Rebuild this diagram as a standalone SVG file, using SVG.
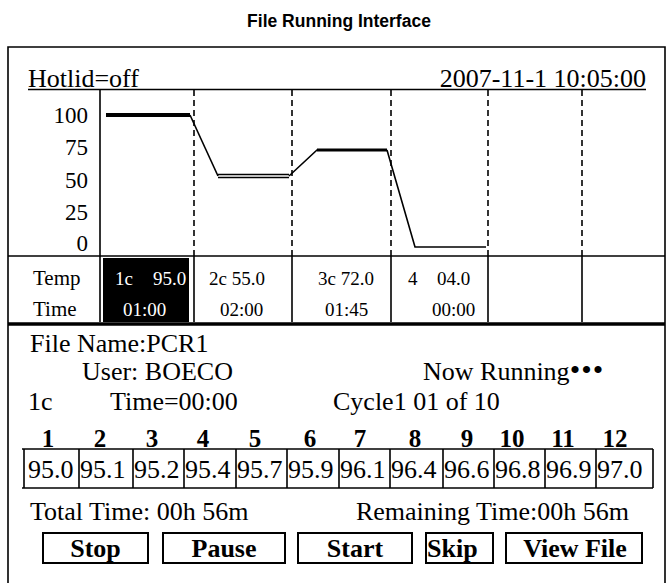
<svg xmlns="http://www.w3.org/2000/svg" width="667" height="583" viewBox="0 0 667 583">
<style>
.t{font-family:"Liberation Serif","Times New Roman",serif;font-size:26px;fill:#000}
.ax{font-family:"Liberation Serif","Times New Roman",serif;font-size:23px;fill:#000;text-anchor:end}
.tb{font-family:"Liberation Serif","Times New Roman",serif;font-size:21px;fill:#000}
.c{font-family:"Liberation Serif","Times New Roman",serif;font-size:19px;fill:#000}
.cw{font-family:"Liberation Serif","Times New Roman",serif;font-size:19px;fill:#fff}
.n{font-family:"Liberation Serif","Times New Roman",serif;font-size:25px;font-weight:bold;fill:#000;text-anchor:middle}
.b{font-family:"Liberation Serif","Times New Roman",serif;font-size:26px;font-weight:bold;fill:#000}
.ln{stroke:#000;stroke-width:1.6;fill:none}
.dash{stroke:#000;stroke-width:1.6;stroke-dasharray:6,4;fill:none}
.btn{stroke:#000;stroke-width:2;fill:#fff}
</style>
<g id="title">
<text x="339" y="27" font-family="Liberation Sans, Arial, sans-serif" font-size="17.5" font-weight="bold" text-anchor="middle">File Running Interface</text>
</g>
<g id="frame">
<path d="M8,583 V47 H665 V583" class="ln" stroke-width="2"/>
</g>
<g id="header">
<text class="t" x="28" y="87">Hotlid=off</text>
<text class="t" x="646" y="87" text-anchor="end">2007-11-1 10:05:00</text>
<line x1="28" y1="89.5" x2="646" y2="89.5" class="ln" stroke-width="2"/>
</g>
<g id="chart">
<text class="ax" x="88" y="123">100</text>
<text class="ax" x="88" y="155">75</text>
<text class="ax" x="88" y="188">50</text>
<text class="ax" x="88" y="220">25</text>
<text class="ax" x="88" y="251">0</text>
<line x1="100" y1="90" x2="100" y2="322" class="ln"/>
<line x1="194" y1="90" x2="194" y2="256" class="dash"/>
<line x1="292" y1="90" x2="292" y2="256" class="dash"/>
<line x1="391" y1="90" x2="391" y2="256" class="dash"/>
<line x1="488" y1="90" x2="488" y2="256" class="dash"/>
<line x1="582" y1="90" x2="582" y2="256" class="dash"/>
</g>
<g id="connectors">
<line x1="106" y1="115" x2="190" y2="115" stroke="#000" stroke-width="4"/>
<polyline points="190,115 218,176" class="ln" stroke-width="2"/>
<line x1="218" y1="174.5" x2="289" y2="174.5" stroke="#000" stroke-width="1.6"/>
<line x1="218" y1="177.5" x2="289" y2="177.5" stroke="#000" stroke-width="1.6"/>
<polyline points="289,176 317,150 387,150" class="ln" stroke-width="2"/>
<line x1="317" y1="150" x2="387" y2="150" stroke="#000" stroke-width="3"/>
<polyline points="387,150 415,247 486,247" class="ln" stroke-width="1.8"/>
</g>
<g id="table">
<line x1="8" y1="256" x2="665" y2="256" class="ln" stroke-width="2"/>
<line x1="8" y1="324" x2="665" y2="324" stroke="#000" stroke-width="3.5"/>
<line x1="194" y1="256" x2="194" y2="322" class="ln"/>
<line x1="292" y1="256" x2="292" y2="322" class="ln"/>
<line x1="391" y1="256" x2="391" y2="322" class="ln"/>
<line x1="488" y1="256" x2="488" y2="322" class="ln"/>
<line x1="582" y1="256" x2="582" y2="322" class="ln"/>
<rect x="103" y="258" width="86" height="64" fill="#000"/>
<text class="tb" x="33" y="285">Temp</text>
<text class="tb" x="33" y="316">Time</text>
<text class="cw" x="115" y="285">1c</text>
<text class="cw" x="153" y="285">95.0</text>
<text class="cw" x="123" y="316">01:00</text>
<text class="c" x="209" y="285">2c 55.0</text>
<text class="c" x="220" y="316">02:00</text>
<text class="c" x="318" y="285">3c 72.0</text>
<text class="c" x="325" y="316">01:45</text>
<text class="c" x="408" y="285">4</text>
<text class="c" x="437" y="285">04.0</text>
<text class="c" x="432" y="316">00:00</text>
</g>
<g id="info">
<text class="t" x="30" y="352">File Name:PCR1</text>
<text class="t" x="82" y="380">User: BOECO</text>
<text class="t" x="423" y="380">Now Running<tspan font-size="30" letter-spacing="1">•••</tspan></text>
<text class="t" x="28" y="410">1c</text>
<text class="t" x="110" y="410">Time=00:00</text>
<text class="t" x="333" y="410">Cycle1 01 of 10</text>
</g>
<g id="grid">
<text class="n" x="48" y="447">1</text>
<text class="n" x="100" y="447">2</text>
<text class="n" x="152" y="447">3</text>
<text class="n" x="203" y="447">4</text>
<text class="n" x="255" y="447">5</text>
<text class="n" x="310" y="447">6</text>
<text class="n" x="360" y="447">7</text>
<text class="n" x="415" y="447">8</text>
<text class="n" x="467" y="447">9</text>
<text class="n" x="512" y="447">10</text>
<text class="n" x="563" y="447">11</text>
<text class="n" x="615" y="447">12</text>
<line x1="22" y1="449" x2="653" y2="449" class="ln" stroke-width="2"/>
<line x1="22" y1="488" x2="653" y2="488" class="ln" stroke-width="2"/>
<path d="M24,449V488M79,449V488M133,449V488M184,449V488M236,449V488M287,449V488M339,449V488M390,449V488M443,449V488M494,449V488M545,449V488M596,449V488M653,449V488" class="ln"/>
<text class="t" x="28" y="478">95.0</text>
<text class="t" x="80" y="478">95.1</text>
<text class="t" x="134" y="478">95.2</text>
<text class="t" x="185" y="478">95.4</text>
<text class="t" x="237" y="478">95.7</text>
<text class="t" x="288" y="478">95.9</text>
<text class="t" x="340" y="478">96.1</text>
<text class="t" x="391" y="478">96.4</text>
<text class="t" x="444" y="478">96.6</text>
<text class="t" x="495" y="478">96.8</text>
<text class="t" x="546" y="478">96.9</text>
<text class="t" x="597" y="478">97.0</text>
</g>
<g id="times">
<text class="t" x="30" y="520">Total Time: 00h 56m</text>
<text class="t" x="629" y="520" text-anchor="end">Remaining Time:00h 56m</text>
</g>
<g id="btn-stop"><rect class="btn" x="43" y="533" width="105" height="30"/><text class="b" x="95.5" y="557" text-anchor="middle">Stop</text></g>
<g id="btn-pause"><rect class="btn" x="163" y="533" width="122" height="30"/><text class="b" x="224" y="557" text-anchor="middle">Pause</text></g>
<g id="btn-start"><rect class="btn" x="298" y="533" width="114" height="30"/><text class="b" x="355" y="557" text-anchor="middle">Start</text></g>
<g id="btn-skip"><rect class="btn" x="426" y="533" width="67" height="30"/><text class="b" x="427" y="557">Skip</text></g>
<g id="btn-view"><rect class="btn" x="506" y="533" width="136" height="30"/><text class="b" x="575" y="557" text-anchor="middle">View File</text></g>
</svg>
